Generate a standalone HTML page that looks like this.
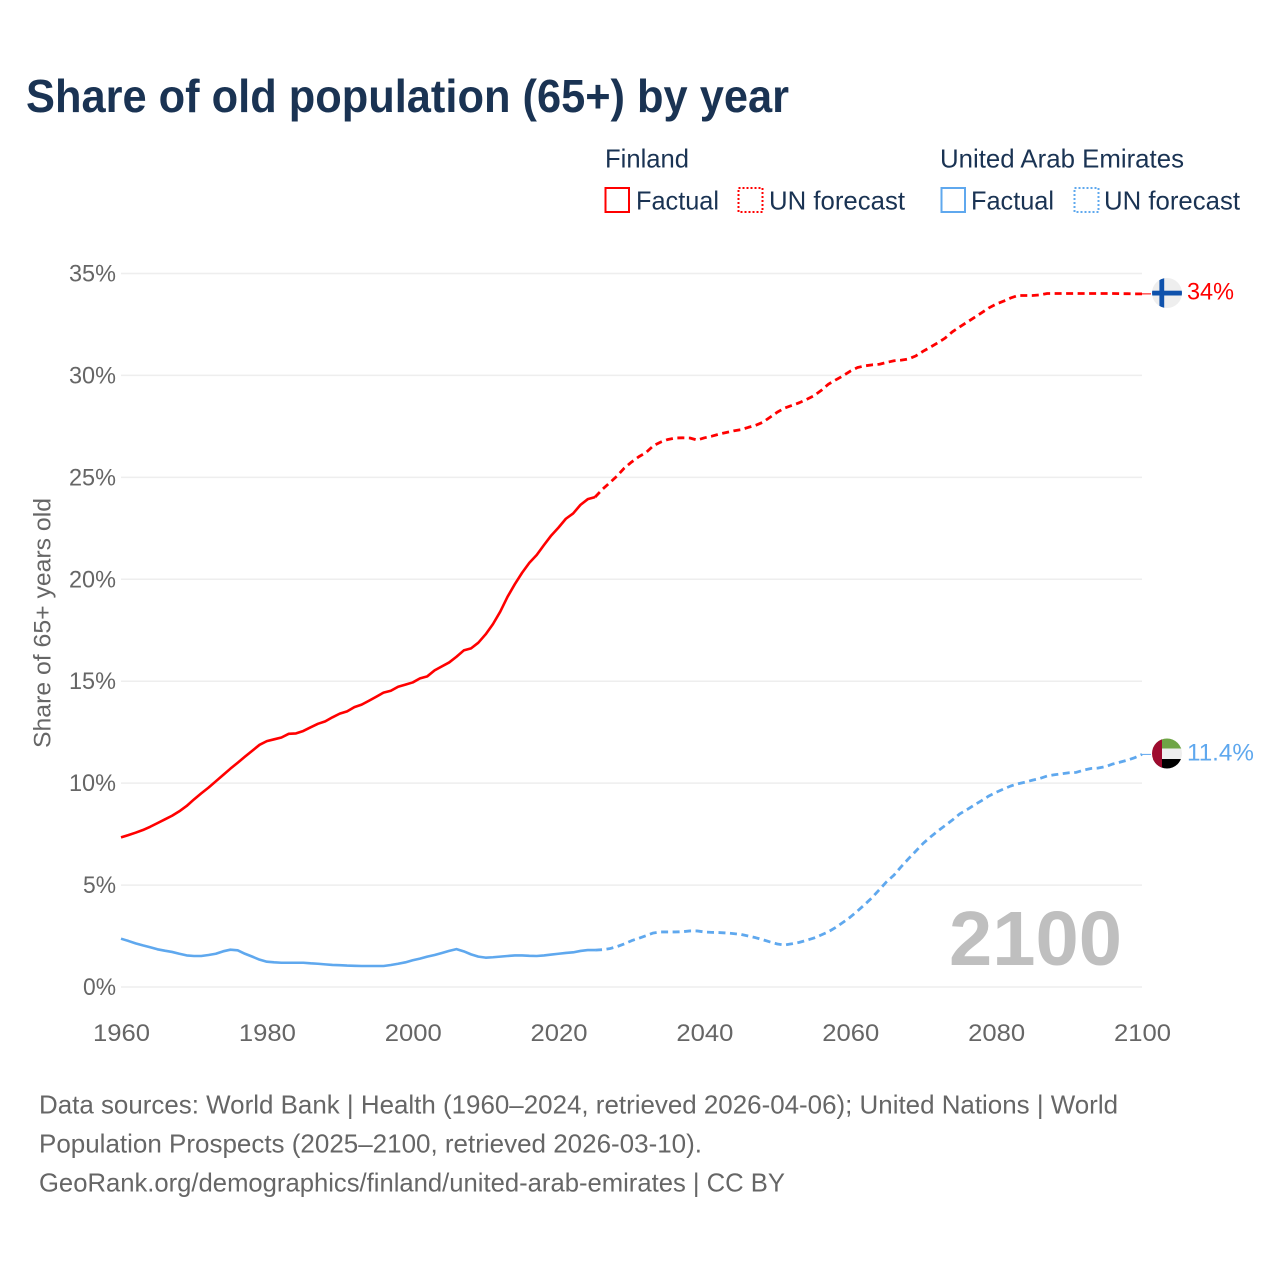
<!DOCTYPE html>
<html lang="en">
<head>
<meta charset="utf-8">
<title>Share of old population (65+) by year</title>
<style>
html,body{margin:0;padding:0;background:#fff;}
svg{display:block;font-family:"Liberation Sans",sans-serif;}
.navy{fill:#1a3353;}
.grey{fill:#666;}
</style>
</head>
<body>
<svg id="chart" xmlns="http://www.w3.org/2000/svg" width="1280" height="1280" viewBox="0 0 1280 1280">
  <rect width="1280" height="1280" fill="#fff"/>
  <text class="navy" x="26" y="112" font-size="46" font-weight="bold" textLength="763" lengthAdjust="spacingAndGlyphs">Share of old population (65+) by year</text>

  <g font-size="26">
    <text class="navy" x="605" y="167.5" textLength="84" lengthAdjust="spacingAndGlyphs">Finland</text>
    <rect x="605.5" y="188" width="23.5" height="24" fill="none" stroke="#ff0000" stroke-width="2"/>
    <text class="navy" x="636" y="209.5" textLength="83" lengthAdjust="spacingAndGlyphs">Factual</text>
    <rect x="738.5" y="188" width="24" height="24" fill="none" stroke="#ff0000" stroke-width="2" stroke-dasharray="2 2"/>
    <text class="navy" x="769" y="209.5" textLength="136" lengthAdjust="spacingAndGlyphs">UN forecast</text>
    <text class="navy" x="940" y="167.5" textLength="244" lengthAdjust="spacingAndGlyphs">United Arab Emirates</text>
    <rect x="941.5" y="188" width="23.5" height="24" fill="none" stroke="#5fa8ee" stroke-width="2"/>
    <text class="navy" x="971" y="209.5" textLength="83" lengthAdjust="spacingAndGlyphs">Factual</text>
    <rect x="1074.5" y="188" width="24" height="24" fill="none" stroke="#5fa8ee" stroke-width="2" stroke-dasharray="2 2"/>
    <text class="navy" x="1104" y="209.5" textLength="136" lengthAdjust="spacingAndGlyphs">UN forecast</text>
  </g>

  <g id="grid"></g>
  <g id="yticks"></g>
  <g id="xticks"></g>
  <text class="grey" transform="translate(50.5,748) rotate(-90)" font-size="24" textLength="250" lengthAdjust="spacingAndGlyphs">Share of 65+ years old</text>

  <text x="949" y="965" font-size="77" font-weight="bold" fill="#bfbfbf" textLength="173" lengthAdjust="spacingAndGlyphs">2100</text>

  <g id="series"></g>

  <defs>
    <clipPath id="clip-fi"><circle cx="1167" cy="293" r="15"/></clipPath>
    <clipPath id="clip-ae"><circle cx="1167" cy="753.5" r="15"/></clipPath>
  </defs>
  <g id="flag-fi" clip-path="url(#clip-fi)">
    <rect x="1152" y="278" width="30" height="30" fill="#eeeeee"/>
    <rect x="1152" y="290.7" width="30" height="4.8" fill="#0f52ac"/>
    <rect x="1159.4" y="278" width="4.8" height="30" fill="#0f52ac"/>
  </g>
  <g id="flag-ae" clip-path="url(#clip-ae)">
    <rect x="1152" y="738" width="30" height="11" fill="#6ea545"/>
    <rect x="1152" y="748.5" width="30" height="10.5" fill="#eeeeee"/>
    <rect x="1152" y="759" width="30" height="11" fill="#000000"/>
    <rect x="1152" y="738" width="10" height="32" fill="#9e0b2e"/>
  </g>
  <text id="end-fi" x="1187" y="299.5" font-size="24" fill="#ff0000" textLength="47" lengthAdjust="spacingAndGlyphs">34%</text>
  <text id="end-ae" x="1187" y="760.5" font-size="24" fill="#5fa8ee" textLength="67" lengthAdjust="spacingAndGlyphs">11.4%</text>

  <g class="grey" font-size="26">
    <text x="39" y="1113.5" textLength="1079" lengthAdjust="spacingAndGlyphs">Data sources: World Bank | Health (1960–2024, retrieved 2026-04-06); United Nations | World</text>
    <text x="39" y="1152.5" textLength="663" lengthAdjust="spacingAndGlyphs">Population Prospects (2025–2100, retrieved 2026-03-10).</text>
    <text x="39" y="1191.5" textLength="746" lengthAdjust="spacingAndGlyphs">GeoRank.org/demographics/finland/united-arab-emirates | CC BY</text>
  </g>
</svg>
<script>
const xTickYears = [1960, 1980, 2000, 2020, 2040, 2060, 2080, 2100];
const yTickValues = [0, 5, 10, 15, 20, 25, 30, 35];
const factualStartYear = 1960;
const forecastStartYear = 2025;

const finlandFactual = [
  7.34,7.45,7.57,7.70,7.86,8.04,8.22,8.40,8.62,8.88,
  9.20,9.50,9.78,10.09,10.40,10.71,11.00,11.30,11.59,11.88,
  12.06,12.15,12.24,12.42,12.44,12.56,12.74,12.91,13.03,13.23,
  13.41,13.52,13.73,13.85,14.04,14.24,14.44,14.53,14.73,14.83,
  14.94,15.14,15.24,15.53,15.73,15.92,16.20,16.51,16.61,16.89,
  17.30,17.80,18.41,19.14,19.76,20.32,20.81,21.19,21.68,22.15,
  22.54,22.97,23.23,23.65,23.93,24.03
];
const finlandForecast = [
  24.03,24.41,24.73,25.06,25.45,
  25.75,26.01,26.22,26.55,26.73,26.86,26.93,26.94,26.93,26.83,
  26.94,27.02,27.12,27.20,27.28,27.34,27.45,27.55,27.70,27.95,
  28.20,28.40,28.53,28.66,28.82,29.00,29.26,29.57,29.78,29.98,
  30.21,30.39,30.47,30.52,30.55,30.64,30.72,30.75,30.81,30.96,
  31.19,31.39,31.60,31.83,32.14,32.38,32.61,32.84,33.07,33.31,
  33.50,33.64,33.80,33.92,33.92,33.92,33.95,34.02,34.02,34.02,
  34.02,34.02,34.02,34.02,34.02,34.02,34.02,34.01,34.01,34.00,
  34.00
];
const uaeFactual = [
  2.37,2.26,2.14,2.04,1.95,1.85,1.78,1.72,1.63,1.55,
  1.52,1.52,1.57,1.63,1.75,1.83,1.80,1.63,1.49,1.34,
  1.24,1.21,1.19,1.19,1.19,1.19,1.16,1.14,1.11,1.08,
  1.07,1.05,1.04,1.03,1.03,1.03,1.03,1.08,1.14,1.21,
  1.31,1.39,1.49,1.57,1.67,1.77,1.86,1.75,1.60,1.49,
  1.44,1.46,1.49,1.52,1.55,1.55,1.53,1.52,1.55,1.59,
  1.63,1.67,1.70,1.77,1.81,1.81
];
const uaeForecast = [
  1.81,1.83,1.88,1.98,2.11,
  2.27,2.39,2.52,2.65,2.70,2.70,2.70,2.71,2.75,2.75,
  2.70,2.68,2.67,2.65,2.62,2.58,2.50,2.42,2.32,2.21,
  2.11,2.06,2.12,2.19,2.29,2.40,2.55,2.71,2.92,3.17,
  3.43,3.73,4.05,4.39,4.78,5.17,5.49,5.91,6.30,6.67,
  7.05,7.36,7.65,7.92,8.19,8.49,8.70,8.93,9.14,9.37,
  9.55,9.71,9.86,9.97,10.05,10.15,10.23,10.35,10.41,10.46,
  10.51,10.53,10.64,10.72,10.74,10.81,10.94,11.03,11.13,11.25,
  11.41
];

const NS = 'http://www.w3.org/2000/svg';
const FINLAND_RED = '#ff0000';
const UAE_BLUE = '#5fa8ee';
const xScale = function (year) { return 121 + (year - 1960) * (1021 / 140); };
const yScale = function (pct) { return 987 - pct * (713.5 / 35); };

const grid = document.getElementById('grid');
const yticks = document.getElementById('yticks');
const xticks = document.getElementById('xticks');
const series = document.getElementById('series');

yTickValues.forEach(function (v) {
  const line = document.createElementNS(NS, 'line');
  
  
  line.setAttribute('x1', 121);
  line.setAttribute('x2', 1142);
  line.setAttribute('y1', yScale(v));
  line.setAttribute('y2', yScale(v));
  line.setAttribute('stroke', '#eeeeee');
  line.setAttribute('stroke-width', 1.5);
  grid.appendChild(line);

  const label = document.createElementNS(NS, 'text');
  
  
  label.setAttribute('x', 116);
  label.setAttribute('y', yScale(v) + 8);
  label.setAttribute('text-anchor', 'end');
  label.setAttribute('font-size', 24);
  label.setAttribute('class', 'grey');
  label.setAttribute('textLength', v < 10 ? 33 : 47);
  label.setAttribute('lengthAdjust', 'spacingAndGlyphs');
  label.textContent = v + '%';
  yticks.appendChild(label);
});

xTickYears.forEach(function (year) {
  const label = document.createElementNS(NS, 'text');
  
  
  label.setAttribute('x', xScale(year) + 0.5);
  label.setAttribute('y', 1041);
  label.setAttribute('text-anchor', 'middle');
  label.setAttribute('font-size', 24);
  label.setAttribute('class', 'grey');
  label.setAttribute('textLength', 57);
  label.setAttribute('lengthAdjust', 'spacingAndGlyphs');
  label.textContent = String(year);
  xticks.appendChild(label);
});

function pathFor(values, startYear) {
  return values.map(function (v, i) {
    return (i ? 'L' : 'M') + xScale(startYear + i).toFixed(2) + ' ' + yScale(v).toFixed(2);
  }).join(' ');
}

function drawSeries(name, values, startYear, color, dash) {
  const p = document.createElementNS(NS, 'path');
  
  
  p.setAttribute('d', pathFor(values, startYear));
  p.setAttribute('fill', 'none');
  p.setAttribute('stroke', color);
  p.setAttribute('stroke-width', dash ? 2.8 : 2.6);
  p.setAttribute('stroke-linejoin', 'round');
  if (dash) { p.setAttribute('stroke-dasharray', dash); }
  series.appendChild(p);
}

function drawConnector(name, value, color) {
  const c = document.createElementNS(NS, 'line');
  
  
  c.setAttribute('x1', xScale(2100));
  c.setAttribute('x2', 1151);
  c.setAttribute('y1', yScale(value));
  c.setAttribute('y2', yScale(value));
  c.setAttribute('stroke', color);
  c.setAttribute('stroke-width', 1);
  series.appendChild(c);
}

drawSeries('finland-factual-line', finlandFactual, factualStartYear, FINLAND_RED, null);
drawSeries('finland-forecast-line', finlandForecast, forecastStartYear, FINLAND_RED, '7 4.5');
drawSeries('uae-factual-line', uaeFactual, factualStartYear, UAE_BLUE, null);
drawSeries('uae-forecast-line', uaeForecast, forecastStartYear, UAE_BLUE, '7 4.5');
drawConnector('finland-flag-connector', finlandForecast[finlandForecast.length - 1], FINLAND_RED);
drawConnector('uae-flag-connector', uaeForecast[uaeForecast.length - 1], UAE_BLUE);
</script>
</body>
</html>
